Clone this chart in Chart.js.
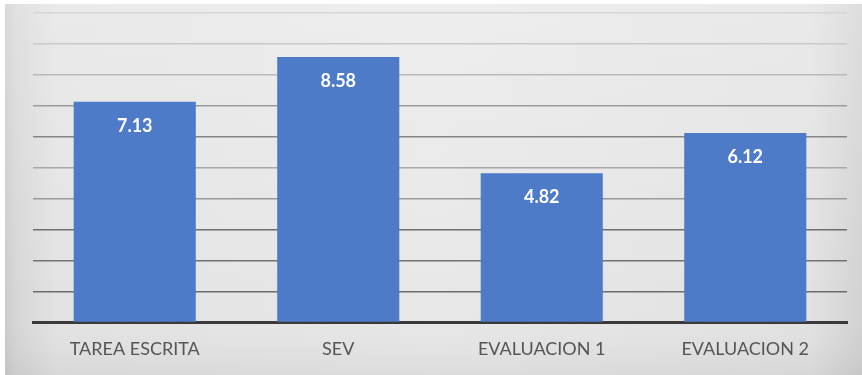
<!DOCTYPE html>
<html>
<head>
<meta charset="utf-8">
<script src="https://cdn.jsdelivr.net/npm/chart.js@4/dist/chart.umd.min.js"></script>
<style>
  html, body { margin: 0; padding: 0; background: #ffffff; width: 862px; height: 375px; overflow: hidden; }
  #wrap { position: absolute; left: 5px; top: 4px; width: 857px; height: 371px; }
</style>
</head>
<body>
<div id="wrap"><canvas id="c" width="857" height="371"></canvas></div>
<script>
const categories = ["TAREA ESCRITA", "SEV", "EVALUACION 1", "EVALUACION 2"];
const values = [7.13, 8.58, 4.82, 6.12];
const valueLabels = ["7.13", "8.58", "4.82", "6.12"];
const yMin = 0, yMax = 10, yStep = 1;

const gridColors = {1:"#6c6c6c",2:"#737373",3:"#6f6f6f",4:"#9a9a9a",5:"#a8a8a8",6:"#858585",7:"#9c9c9c",8:"#b9b9b9",9:"#c9c9c9",10:"#d6d6d6"};

const bgPlugin = {
  id: "bg",
  beforeDraw(chart) {
    const {ctx, width, height} = chart;
    ctx.save();
    const g = ctx.createLinearGradient(0, 0, width, 0);
    g.addColorStop(0, "#cccccc");
    g.addColorStop(0.012, "#d6d6d6");
    g.addColorStop(0.06, "#e3e3e3");
    g.addColorStop(0.5, "#e8e8e8");
    g.addColorStop(0.94, "#e2e2e2");
    g.addColorStop(1, "#d2d2d2");
    ctx.fillStyle = g;
    ctx.fillRect(0, 0, width, height);
    const v = ctx.createLinearGradient(0, 0, 0, height);
    v.addColorStop(0, "rgba(255,255,255,0.25)");
    v.addColorStop(0.8, "rgba(255,255,255,0)");
    v.addColorStop(1, "rgba(0,0,0,0.05)");
    ctx.fillStyle = v;
    ctx.fillRect(0, 0, width, height);
    ctx.restore();
  }
};

const labelPlugin = {
  id: "vlabels",
  afterDatasetsDraw(chart) {
    const {ctx} = chart;
    const meta = chart.getDatasetMeta(0);
    ctx.save();
    ctx.fillStyle = "#ffffff";
    ctx.font = "bold 18px Lato, 'Open Sans', sans-serif";
    ctx.textAlign = "center";
    ctx.textBaseline = "middle";
    meta.data.forEach((bar, i) => {
      ctx.fillText(valueLabels[i], bar.x, bar.y + 24);
    });
    ctx.restore();
  }
};

new Chart(document.getElementById("c"), {
  type: "bar",
  data: {
    labels: categories,
    datasets: [{
      data: values,
      backgroundColor: "#4e7bc8",
      borderWidth: 0,
      categoryPercentage: 1,
      barPercentage: 0.6
    }]
  },
  options: {
    responsive: false,
    devicePixelRatio: 1,
    animation: false,
    layout: { padding: { left: 28, right: 15, top: 9, bottom: -1 } },
    plugins: { legend: { display: false }, tooltip: { enabled: false } },
    scales: {
      x: {
        grid: { display: false, drawTicks: false },
        border: { display: true, color: "#3a3a3a", width: 3 },
        ticks: {
          color: "#555555",
          padding: 16,
          font: { family: "Lato, 'Open Sans', sans-serif", size: 18 }
        }
      },
      y: {
        min: yMin, max: yMax,
        ticks: { display: false, stepSize: yStep },
        border: { display: false },
        grid: {
          drawTicks: false,
          lineWidth: 1.5,
          color: (ctx) => gridColors[ctx.tick && ctx.tick.value] || "rgba(0,0,0,0)"
        }
      }
    }
  },
  plugins: [bgPlugin, labelPlugin]
});
</script>
</body>
</html>
